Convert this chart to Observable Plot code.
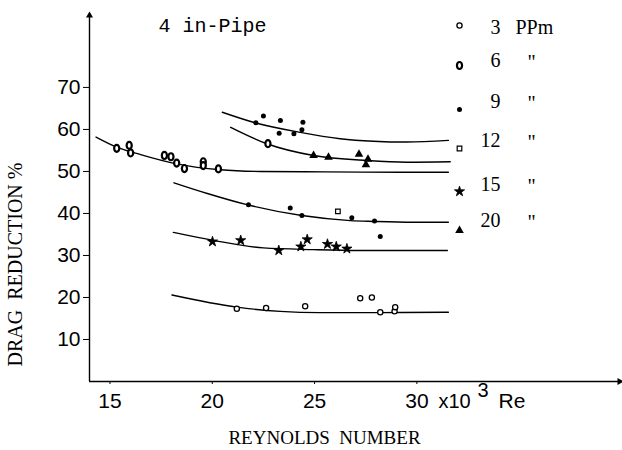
<!DOCTYPE html>
<html>
<head>
<meta charset="utf-8">
<script src="https://cdn.jsdelivr.net/npm/d3@7"></script>
<script src="https://cdn.jsdelivr.net/npm/@observablehq/plot@0.6"></script>
<style>
  html, body { margin: 0; padding: 0; background: #fff; }
  #chart svg { display: block; }
</style>
</head>
<body>
<div id="chart"></div>
<script>
// ---- axes ----
const xDomain = [14, 40];
const yDomain = [0, 87.6];
const xTicks = [15, 20, 25, 30];
const yTicks = [10, 20, 30, 40, 50, 60, 70];
const xTitle = "REYNOLDS\u00a0\u00a0NUMBER";
const yTitle = "DRAG\u00a0\u00a0REDUCTION\u00a0%";
const plotTitle = "4 in-Pipe";
const unitText = "x10";
const unitExp = "3";
const unitRe = "Re";

// ---- fitted curves ----
const curveA_x = [14.32, 15.33, 16.5, 18.26, 20.38, 22.34, 25.5, 29.19, 31.54];
const curveA_y = [58.2, 55.8, 54.0, 51.8, 50.4, 50.0, 49.9, 49.8, 49.8];
const curveB_x = [20.49, 22.09, 24.30, 26.25, 27.87, 29.5, 31.54];
const curveB_y = [64.1, 61.6, 59.3, 57.8, 57.2, 57.0, 57.4];
const curveC_x = [20.90, 22.67, 24.95, 27.56, 29.5, 31.63];
const curveC_y = [60.5, 56.6, 53.8, 52.6, 52.2, 52.3];
const curveD_x = [18.13, 19.8, 21.69, 24.38, 26.74, 27.88, 29.8, 31.54];
const curveD_y = [47.3, 44.7, 42.1, 39.5, 38.3, 38.1, 37.9, 37.9];
const curveE_x = [18.10, 20.05, 22.50, 24.95, 27.23, 29.5, 31.49];
const curveE_y = [35.5, 33.6, 31.8, 31.4, 31.2, 31.2, 31.2];
const curveF_x = [18.03, 21.20, 23.32, 25.27, 28.21, 31.54];
const curveF_y = [20.6, 17.7, 16.7, 16.4, 16.4, 16.5];

// ---- measured points by concentration (ppm) ----
const ppm3_x = [21.20, 22.63, 24.54, 27.23, 27.80, 28.21, 28.91, 28.94];
const ppm3_y = [17.3, 17.5, 17.9, 19.8, 20.0, 16.5, 16.7, 17.7];
const ppm6_x = [15.33, 15.94, 16.01, 17.66, 17.98, 18.26, 18.64, 19.56, 19.56, 20.30, 22.72];
const ppm6_y = [55.5, 56.2, 54.4, 53.8, 53.5, 52.0, 50.7, 52.3, 51.4, 50.6, 56.6];
const ppm9_x = [22.13, 22.50, 23.33, 23.27, 23.99, 24.43, 24.38, 21.77, 23.81, 24.38, 26.82, 27.93, 28.21];
const ppm9_y = [61.6, 63.2, 62.1, 59.1, 59.0, 61.7, 59.9, 42.1, 41.3, 39.5, 39.0, 38.2, 34.5];
const ppm12_x = [26.14];
const ppm12_y = [40.5];
const ppm15_x = [20.01, 21.39, 23.25, 24.33, 24.64, 25.63, 26.06, 26.58];
const ppm15_y = [33.3, 33.6, 31.2, 32.1, 33.8, 32.7, 32.1, 31.6];
const ppm20_x = [24.95, 25.68, 27.17, 27.61, 27.51];
const ppm20_y = [53.8, 53.4, 54.1, 52.9, 51.6];

// ---- legend ----
const legendLabels = ["3", "6", "9", "12", "15", "20"];
const legendUnit = "PPm";
const dittoMark = "\"";

// ---------------------------------------------------------------
const zip = (xs, ys) => xs.map((x, i) => ({x, y: ys[i]}));

const oval = {
  draw(ctx, size) {
    const r = Math.sqrt(size / Math.PI);
    const rx = r * 0.8, ry = r * 1.1, k = 0.5523;
    ctx.moveTo(rx, 0);
    ctx.bezierCurveTo(rx, ry * k, rx * k, ry, 0, ry);
    ctx.bezierCurveTo(-rx * k, ry, -rx, ry * k, -rx, 0);
    ctx.bezierCurveTo(-rx, -ry * k, -rx * k, -ry, 0, -ry);
    ctx.bezierCurveTo(rx * k, -ry, rx, -ry * k, rx, 0);
    ctx.closePath();
  }
};

const seriesStyle = [
  {symbol: "circle", r: 2.6, fill: "white", stroke: "black", strokeWidth: 1.3},
  {symbol: oval, r: 3.2, fill: "white", stroke: "black", strokeWidth: 2.2},
  {symbol: "circle", r: 2.5, fill: "black", stroke: "none"},
  {symbol: "square", r: 2.6, fill: "white", stroke: "black", strokeWidth: 1.2},
  {symbol: "star", r: 3.2, fill: "black", stroke: "black", strokeWidth: 0.8},
  {symbol: "triangle", r: 3.2, fill: "black", stroke: "none"}
];
const seriesData = [
  zip(ppm3_x, ppm3_y), zip(ppm6_x, ppm6_y), zip(ppm9_x, ppm9_y),
  zip(ppm12_x, ppm12_y), zip(ppm15_x, ppm15_y), zip(ppm20_x, ppm20_y)
];
const curves = [
  zip(curveA_x, curveA_y), zip(curveB_x, curveB_y), zip(curveC_x, curveC_y),
  zip(curveD_x, curveD_y), zip(curveE_x, curveE_y), zip(curveF_x, curveF_y)
];

const sans = "Liberation Sans, Arial, sans-serif";
const serif = "Liberation Serif, Times New Roman, serif";
const mono = "Liberation Mono, Courier New, monospace";

const marks = [];
// axes lines
marks.push(Plot.ruleY([yDomain[0]], {stroke: "black", strokeWidth: 1.6}));
marks.push(Plot.ruleX([xDomain[0]], {stroke: "black", strokeWidth: 1.4}));
marks.push(Plot.dot([xDomain[1]], {x: d => d, y: yDomain[0], symbol: "triangle", rotate: 90, r: 2.6, fill: "black", dx: -2}));
marks.push(Plot.dot([yDomain[1]], {x: xDomain[0], y: d => d, symbol: "triangle", r: 2.6, fill: "black", dy: 2}));
marks.push(Plot.axisX({ticks: xTicks, tickSize: 3, tickPadding: 9, label: null, fontSize: 21, fontFamily: sans}));
marks.push(Plot.axisY({ticks: yTicks, tickSize: 6, tickPadding: 3, label: null, fontSize: 21, fontFamily: sans}));

// curves
for (const c of curves) {
  marks.push(Plot.line(c, {x: "x", y: "y", curve: "monotone-x", stroke: "black", strokeWidth: 1.4}));
}
// points
seriesData.forEach((d, i) => {
  marks.push(Plot.dot(d, {x: "x", y: "y", ...seriesStyle[i]}));
});

// titles / annotations
marks.push(Plot.text([plotTitle], {text: d => d, frameAnchor: "top-left", dx: 69, dy: 18, textAnchor: "start", lineAnchor: "bottom", fontFamily: mono, fontSize: 20}));
marks.push(Plot.text([yTitle], {text: d => d, frameAnchor: "left", dx: -73.5, dy: 67, rotate: -90, textAnchor: "middle", lineAnchor: "middle", fontFamily: serif, fontSize: 20}));
marks.push(Plot.text([xTitle], {text: d => d, frameAnchor: "bottom", dx: -31, dy: 56, textAnchor: "middle", lineAnchor: "middle", fontFamily: serif, fontSize: 19}));
marks.push(Plot.text([unitText], {text: d => d, frameAnchor: "bottom-left", dx: 349, dy: 26, textAnchor: "start", lineAnchor: "bottom", fontFamily: sans, fontSize: 20}));
marks.push(Plot.text([unitExp], {text: d => d, frameAnchor: "bottom-left", dx: 388, dy: 15, textAnchor: "start", lineAnchor: "bottom", fontFamily: sans, fontSize: 20}));
marks.push(Plot.text([unitRe], {text: d => d, frameAnchor: "bottom-left", dx: 409, dy: 26, textAnchor: "start", lineAnchor: "bottom", fontFamily: sans, fontSize: 21}));

// legend
const legMarkerDy = [12, 52, 96, 135, 178, 217];
const legTextDy = [20, 53, 94, 133, 177, 213];
legendLabels.forEach((lab, i) => {
  marks.push(Plot.dot([lab], {frameAnchor: "top-left", dx: 370, dy: legMarkerDy[i], ...seriesStyle[i]}));
  marks.push(Plot.text([lab], {text: d => d, frameAnchor: "top-left", dx: 411, dy: legTextDy[i], textAnchor: "end", lineAnchor: "bottom", fontFamily: serif, fontSize: 20}));
  marks.push(Plot.text([i === 0 ? legendUnit : dittoMark], {text: d => d, frameAnchor: "top-left", dx: i === 0 ? 426 : 442, dy: legTextDy[i] + (i === 0 ? 0 : 2), textAnchor: i === 0 ? "start" : "middle", lineAnchor: "bottom", fontFamily: serif, fontSize: 20}));
});

const chart = Plot.plot({
  width: 622,
  height: 450,
  marginLeft: 89,
  marginRight: 1,
  marginTop: 13,
  marginBottom: 69,
  x: {domain: xDomain},
  y: {domain: yDomain},
  style: {fontFamily: sans, fontSize: "20px", color: "black", background: "white", overflow: "visible"},
  marks
});
document.getElementById("chart").appendChild(chart);
</script>
</body>
</html>
